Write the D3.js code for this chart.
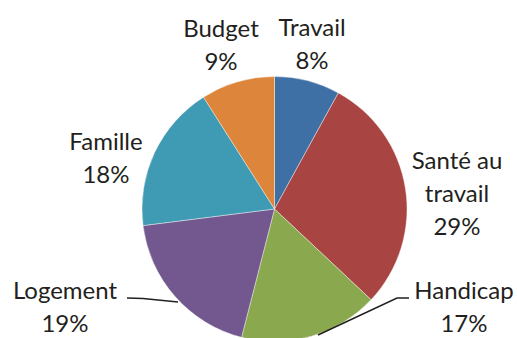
<!DOCTYPE html>
<html>
<head>
<meta charset="utf-8">
<script src="https://cdn.jsdelivr.net/npm/d3@7"></script>
<style>
  html, body { margin: 0; padding: 0; background: #fff; }
  svg { display: block; }
  text { font-family: Lato, "Open Sans", sans-serif; fill: #231f20; }
</style>
</head>
<body>
<svg id="chart" width="517" height="338"></svg>
<script>
// Répartition des demandes par thème (en %)
const categories = ["Travail", "Santé au travail", "Handicap", "Logement", "Famille", "Budget"];
const values = [8, 29, 17, 19, 18, 9];
const colors = ["#3e70a6", "#a84442", "#8aa84e", "#72588e", "#3f9ab3", "#dd853b"];

// Label lines (each category name may wrap over two lines)
const labelLines = [["Travail"], ["Santé au", "travail"], ["Handicap"], ["Logement"], ["Famille"], ["Budget"]];

const cx = 274.5, cy = 209, R = 132.5;
const fontSize = 24, lineH = 33;

const svg = d3.select("#chart");
const g = svg.append("g").attr("transform", `translate(${cx},${cy})`);

const pie = d3.pie().sort(null).value(d => d.value);
const data = categories.map((c, i) => ({ name: c, value: values[i], color: colors[i], lines: labelLines[i] }));
const arcs = pie(data);
const arc = d3.arc().innerRadius(0).outerRadius(R);

g.selectAll("path.slice")
  .data(arcs)
  .join("path")
  .attr("class", "slice")
  .attr("d", arc)
  .attr("fill", d => d.data.color)
  .attr("stroke", "#ffffff")
  .attr("stroke-width", 0.4);

// Label positions: x = horizontal centre of the text block, y = baseline of first line
const labelPlace = {
  "Travail":          { x: 312, y: 36 },
  "Santé au travail": { x: 457, y: 169 },
  "Handicap":         { x: 464, y: 299 },
  "Logement":         { x: 65,  y: 299 },
  "Famille":          { x: 106, y: 150 },
  "Budget":           { x: 221, y: 37 }
};

const fmt = d3.format(".0%");
const total = d3.sum(values);

arcs.forEach(a => {
  const p = labelPlace[a.data.name];
  const t = svg.append("text")
    .attr("text-anchor", "middle")
    .attr("font-size", fontSize);
  const lines = a.data.lines.concat([fmt(a.data.value / total)]);
  lines.forEach((ln, i) => {
    t.append("tspan").attr("x", p.x).attr("y", p.y + i * lineH).text(ln);
  });
});

// Leader lines for the two bottom labels
const line = d3.line();

svg.append("path")
  .attr("d", line([[127, 298], [143, 298.5], [178, 302]]))
  .attr("fill", "none").attr("stroke", "#231f20").attr("stroke-width", 1.5);

svg.append("path")
  .attr("d", line([[409, 298], [397, 298], [318, 335]]))
  .attr("fill", "none").attr("stroke", "#231f20").attr("stroke-width", 1.5);
</script>
</body>
</html>
